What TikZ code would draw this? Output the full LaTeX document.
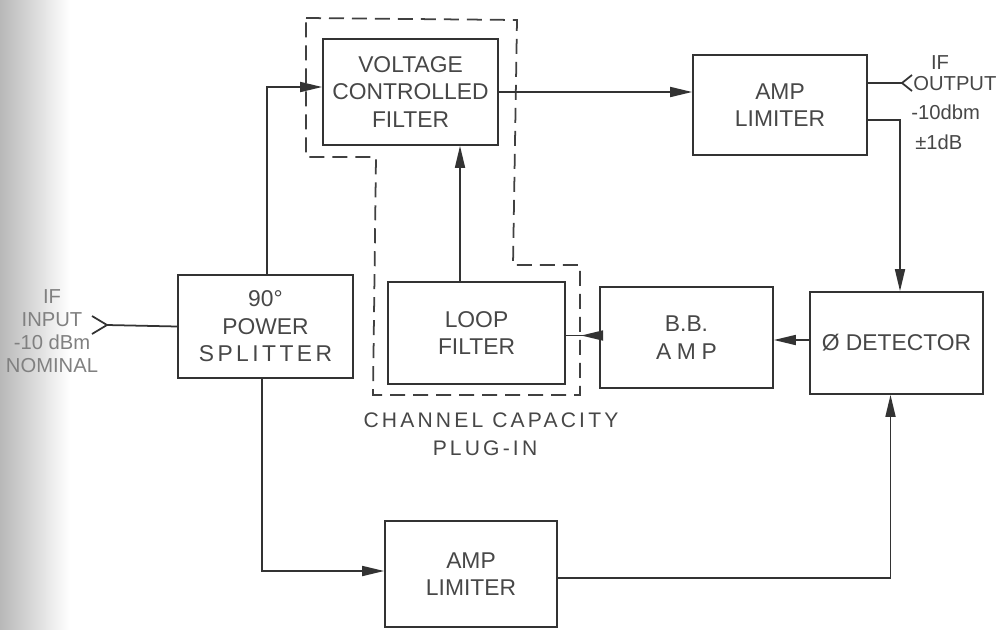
\documentclass[tikz,border=0pt]{standalone}
\usepackage{fontspec}
\setmainfont{Liberation Sans}
\usetikzlibrary{arrows.meta,calc}
\begin{document}
\begin{tikzpicture}[x=0.02cm,y=-0.02cm,
  ink/.style={draw=black!80,line width=1pt},
  box/.style={ink,rectangle,inner sep=0pt,align=center,text=black!72,font=\fontsize{13}{15.6}\selectfont},
  arr/.style={ink,-{Triangle[length=0.44cm,width=0.2cm]}},
  lbl/.style={text=black!72,inner sep=0pt,font=\fontsize{11.5}{13.5}\selectfont},
  spaced/.style={lbl,font=\fontsize{12}{14}\selectfont\addfontfeatures{LetterSpace=15}},
  plugin/.style={draw=black!75,line width=1pt,dash pattern=on 0.3cm off 0.16cm}]
\useasboundingbox (0,0) rectangle (1000,629);
\shade[left color=black!28,right color=white] (0,0) rectangle (70,629);

% blocks
\node[box,minimum width=3.5cm,minimum height=2.06cm] (split) at (265.5,326.5)
  {90°\\POWER\\{\addfontfeatures{LetterSpace=15}SPLITTER}};
\node[box,minimum width=3.5cm,minimum height=2.12cm] (vcf) at (410.5,92)
  {VOLTAGE\\CONTROLLED\\FILTER};
\node[box,minimum width=3.48cm,minimum height=2.0cm] (lim1) at (780,105)
  {AMP\\LIMITER};
\node[box,minimum width=3.54cm,minimum height=2.04cm] (loop) at (476.5,333)
  {LOOP\\FILTER};
\node[box,minimum width=3.46cm,minimum height=2.02cm] (bbamp) at (686.5,337.5)
  {B.B.\\{\addfontfeatures{LetterSpace=25}AMP}};
\node[box,minimum width=3.46cm,minimum height=2.04cm] (det) at (896.5,343)
  {Ø DETECTOR};
\node[box,minimum width=3.44cm,minimum height=2.12cm] (lim2) at (471,574)
  {AMP\\LIMITER};

% plug-in boundary
\draw[plugin] (306,18) -- (517,20) -- (513,265) -- (580,265) -- (580,395)
  -- (373,395) -- (376,157) -- (306,157) -- cycle;

% labels
\node[lbl,align=center,text=black!50,font=\fontsize{11.5}{13.2}\selectfont] (inlbl) at (52,331)
  {IF\\INPUT\\-10 dBm\\NOMINAL};
\node[lbl] (oif) at (940,63) {IF};
\node[lbl,anchor=west] (oout) at (913,84) {OUTPUT};
\node[lbl,anchor=west] (olev) at (911,112) {-10dbm};
\node[lbl,anchor=west] (otol) at (915,142) {±1dB};
\node[spaced] (cc1) at (491,420) {CHANNEL CAPACITY};
\node[spaced] (cc2) at (485,448) {PLUG-IN};

% input
\coordinate (in) at (107,325);
\draw[ink] (in) -- (split.west);
\draw[ink] (92,316) -- (in) -- (92,334);

% output
\coordinate (out) at (902,83);
\draw[ink] ([yshift=0.44cm]lim1.east) -- (out);
\draw[ink] (912,75) -- (out) -- (912,91);

% connectors
\draw[arr] ([xshift=0.03cm]split.north) |- ([yshift=0.1cm]vcf.west);
\draw[arr] ([xshift=-0.07cm]split.south) |- ([yshift=0.06cm]lim2.west);
\draw[arr] (vcf.east) -- (vcf.east -| lim1.west);
\draw[arr] ([yshift=-0.3cm]lim1.east) -| ([xshift=0.07cm]det.north);
\draw[arr] ([yshift=-0.08cm]lim2.east) -| ([xshift=-0.12cm]det.south);
\coordinate (dw) at ([yshift=0.06cm]det.west);
\draw[arr] (dw) -- (dw -| bbamp.east);
\coordinate (bw) at ([yshift=0.04cm]bbamp.west);
\draw[ink] (bw) -- (bw -| loop.east);
\draw[arr] (bw) -- ++(-18,0);
\coordinate (lt) at ([xshift=-0.33cm]loop.north);
\draw[arr] (lt) -- (lt |- vcf.south);
\end{tikzpicture}
\end{document}
